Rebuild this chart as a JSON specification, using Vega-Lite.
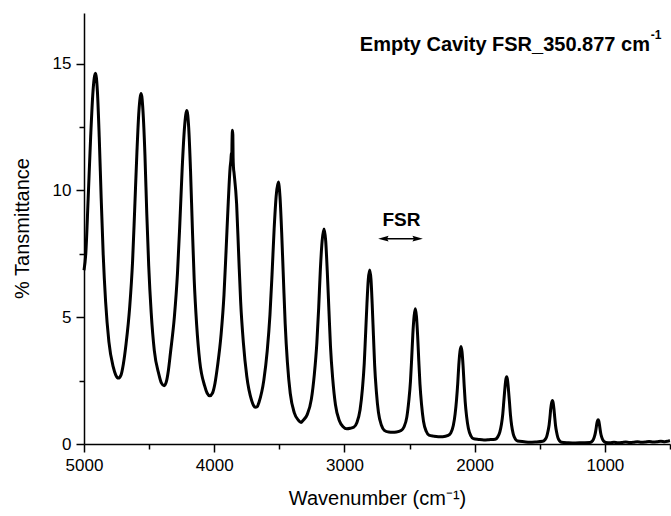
{
  "$schema": "https://vega.github.io/schema/vega-lite/v6.json",
  "width": 586,
  "height": 431,
  "autosize": {"type": "none"},
  "padding": {"left": 84, "top": 13, "right": 1, "bottom": 72},
  "background": "white",
  "config": {
    "view": {"stroke": null},
    "axis": {
      "labelFont": "Liberation Sans",
      "labelFontSize": 17,
      "labelColor": "black",
      "titleFont": "Liberation Sans",
      "titleFontSize": 20,
      "titleFontWeight": "normal",
      "titleColor": "black",
      "domainColor": "black",
      "domainWidth": 1.5,
      "tickColor": "black",
      "tickWidth": 1.5,
      "grid": false
    }
  },
  "datasets": {
    "spectrum": [
      {"w":5000,"t":6.85},{"w":4986,"t":7.53},{"w":4968,"t":9.69},{"w":4949,"t":12.10},{"w":4931,"t":13.90},{"w":4912,"t":14.62},
      {"w":4897,"t":13.90},{"w":4883,"t":12.10},{"w":4868,"t":9.69},{"w":4853,"t":7.53},{"w":4834,"t":5.61},{"w":4809,"t":4.04},
      {"w":4776,"t":3.05},{"w":4756,"t":2.72},{"w":4736,"t":2.6},{"w":4716,"t":2.72},{"w":4698,"t":3.15},
      {"w":4677,"t":3.95},{"w":4649,"t":5.41},{"w":4627,"t":7.20},{"w":4611,"t":9.22},{"w":4594,"t":11.46},{"w":4578,"t":13.15},{"w":4561,"t":13.82},
      {"w":4547,"t":13.13},{"w":4532,"t":11.40},{"w":4518,"t":9.10},{"w":4503,"t":7.02},{"w":4484,"t":5.18},{"w":4460,"t":3.68},
      {"w":4425,"t":2.75},{"w":4405,"t":2.4},{"w":4385,"t":2.3},{"w":4368,"t":2.45},{"w":4352,"t":2.9},
      {"w":4336,"t":3.60},{"w":4306,"t":5.01},{"w":4282,"t":6.75},{"w":4264,"t":8.70},{"w":4246,"t":10.87},{"w":4228,"t":12.50},{"w":4210,"t":13.15},
      {"w":4196,"t":12.48},{"w":4182,"t":10.79},{"w":4168,"t":8.54},{"w":4154,"t":6.51},{"w":4135,"t":4.71},{"w":4111,"t":3.25},
      {"w":4074,"t":2.3},{"w":4054,"t":2.0},{"w":4034,"t":1.9},{"w":4014,"t":2.0},{"w":3994,"t":2.4},
      {"w":3975,"t":3.06},{"w":3947,"t":4.33},{"w":3925,"t":5.88},{"w":3909,"t":7.62},{"w":3892,"t":9.56},{"w":3878,"t":10.9},
      {"w":3872,"t":11.2},{"w":3868,"t":11.5},{"w":3866,"t":11.1},{"w":3863,"t":12.0},{"w":3860,"t":12.38},{"w":3857,"t":12.2},{"w":3855,"t":11.3},{"w":3852,"t":10.9},{"w":3848,"t":10.7},
      {"w":3828,"t":9.47},{"w":3812,"t":7.44},{"w":3797,"t":5.61},{"w":3776,"t":3.99},{"w":3750,"t":2.67},
      {"w":3713,"t":1.72},{"w":3698,"t":1.52},{"w":3684,"t":1.45},{"w":3670,"t":1.47},{"w":3656,"t":1.65},
      {"w":3619,"t":2.52},{"w":3593,"t":3.67},{"w":3572,"t":5.09},{"w":3556,"t":6.69},{"w":3540,"t":8.47},{"w":3524,"t":9.80},{"w":3508,"t":10.33},
      {"w":3495,"t":9.76},{"w":3482,"t":8.34},{"w":3468,"t":6.44},{"w":3455,"t":4.74},{"w":3438,"t":3.22},{"w":3416,"t":1.99},{"w":3385,"t":1.23},{"w":3354,"t":0.94},
      {"w":3333,"t":0.85},
      {"w":3318,"t":0.93},{"w":3286,"t":1.16},{"w":3254,"t":1.77},{"w":3231,"t":2.76},{"w":3212,"t":3.98},{"w":3198,"t":5.35},{"w":3185,"t":6.88},{"w":3171,"t":8.02},{"w":3157,"t":8.48},
      {"w":3144,"t":8.01},{"w":3132,"t":6.83},{"w":3119,"t":5.25},{"w":3107,"t":3.83},{"w":3090,"t":2.57},{"w":3069,"t":1.55},{"w":3039,"t":0.92},{"w":3010,"t":0.68},
      {"w":2982,"t":0.60},{"w":2955,"t":0.62},
      {"w":2929,"t":0.66},{"w":2904,"t":0.85},{"w":2880,"t":1.35},{"w":2862,"t":2.17},{"w":2848,"t":3.17},{"w":2838,"t":4.29},{"w":2827,"t":5.55},{"w":2817,"t":6.48},{"w":2806,"t":6.86},
      {"w":2796,"t":6.48},{"w":2787,"t":5.52},{"w":2777,"t":4.24},{"w":2768,"t":3.10},{"w":2755,"t":2.08},{"w":2739,"t":1.25},{"w":2716,"t":0.74},{"w":2694,"t":0.54},
      {"w":2660,"t":0.47},{"w":2631,"t":0.46},{"w":2600,"t":0.47},
      {"w":2565,"t":0.53},{"w":2543,"t":0.67},{"w":2521,"t":1.06},{"w":2506,"t":1.69},{"w":2493,"t":2.47},{"w":2484,"t":3.34},{"w":2475,"t":4.31},{"w":2465,"t":5.04},{"w":2456,"t":5.33},
      {"w":2447,"t":5.03},{"w":2438,"t":4.27},{"w":2429,"t":3.27},{"w":2420,"t":2.36},{"w":2408,"t":1.56},{"w":2393,"t":0.90},{"w":2372,"t":0.50},{"w":2351,"t":0.35},
      {"w":2315,"t":0.31},{"w":2280,"t":0.29},{"w":2245,"t":0.29},
      {"w":2203,"t":0.34},{"w":2183,"t":0.44},{"w":2164,"t":0.73},{"w":2150,"t":1.19},{"w":2139,"t":1.76},{"w":2130,"t":2.39},{"w":2122,"t":3.10},{"w":2113,"t":3.64},{"w":2105,"t":3.85},
      {"w":2097,"t":3.63},{"w":2089,"t":3.08},{"w":2081,"t":2.34},{"w":2073,"t":1.68},{"w":2062,"t":1.09},{"w":2048,"t":0.61},{"w":2029,"t":0.32},{"w":2010,"t":0.21},
      {"w":1970,"t":0.18},{"w":1929,"t":0.16},{"w":1890,"t":0.17},
      {"w":1842,"t":0.19},{"w":1824,"t":0.27},{"w":1807,"t":0.47},{"w":1794,"t":0.79},{"w":1784,"t":1.19},{"w":1777,"t":1.63},{"w":1769,"t":2.13},{"w":1762,"t":2.50},{"w":1754,"t":2.65},
      {"w":1747,"t":2.50},{"w":1740,"t":2.11},{"w":1732,"t":1.60},{"w":1725,"t":1.14},{"w":1716,"t":0.73},{"w":1704,"t":0.40},{"w":1687,"t":0.19},{"w":1670,"t":0.12},
      {"w":1620,"t":0.09},{"w":1578,"t":0.07},{"w":1535,"t":0.08},
      {"w":1477,"t":0.11},{"w":1462,"t":0.16},{"w":1447,"t":0.29},{"w":1437,"t":0.50},{"w":1428,"t":0.76},{"w":1422,"t":1.05},{"w":1416,"t":1.38},{"w":1409,"t":1.62},{"w":1403,"t":1.72},
      {"w":1397,"t":1.62},{"w":1391,"t":1.37},{"w":1385,"t":1.04},{"w":1379,"t":0.73},{"w":1371,"t":0.47},{"w":1361,"t":0.25},{"w":1347,"t":0.12},{"w":1333,"t":0.07},
      {"w":1280,"t":0.05},{"w":1227,"t":0.04},{"w":1175,"t":0.05},
      {"w":1115,"t":0.06},{"w":1102,"t":0.09},{"w":1090,"t":0.16},{"w":1081,"t":0.28},{"w":1074,"t":0.42},{"w":1068,"t":0.59},{"w":1063,"t":0.77},{"w":1057,"t":0.91},{"w":1052,"t":0.96},
      {"w":1047,"t":0.91},{"w":1042,"t":0.77},{"w":1037,"t":0.59},{"w":1032,"t":0.42},{"w":1025,"t":0.28},{"w":1016,"t":0.16},{"w":1004,"t":0.09},{"w":992,"t":0.06},
      {"w":960,"t":0.05},{"w":930,"t":0.07},{"w":900,"t":0.05},{"w":870,"t":0.06},{"w":840,"t":0.08},{"w":810,"t":0.06},{"w":780,"t":0.07},{"w":750,"t":0.09},
      {"w":720,"t":0.07},{"w":690,"t":0.08},{"w":660,"t":0.10},{"w":630,"t":0.08},{"w":600,"t":0.09},{"w":570,"t":0.11},{"w":540,"t":0.09},{"w":510,"t":0.12},{"w":500,"t":0.13}
    ],
    "arrow": [{"w": 2700, "w2": 2439, "t": 8.1}],
    "heads": [{"w": 2701, "t": 8.1, "dir": "left"}, {"w": 2438, "t": 8.1, "dir": "right"}],
    "labels": [
      {"w": 2562, "t": 8.61, "label": "FSR", "kind": "fsr"},
      {"w": 654, "t": 15.52, "label": "Empty Cavity FSR_350.877 cm", "kind": "title"}
    ],
    "sup": [{"w": 647, "t": 15.96, "label": "-1"}]
  },
  "layer": [
    {
      "data": {"name": "spectrum"},
      "mark": {"type": "line", "color": "black", "strokeWidth": 3, "interpolate": "monotone", "strokeJoin": "round"},
      "encoding": {
        "x": {
          "field": "w", "type": "quantitative",
          "scale": {"domain": [500, 5000], "reverse": true, "nice": false, "zero": false},
          "axis": {
            "orient": "bottom",
            "values": [500, 1000, 1500, 2000, 2500, 3000, 3500, 4000, 4500, 5000],
            "format": "d",
            "labelExpr": "datum.value % 1000 === 0 ? datum.label : ''",
            "tickSize": {"condition": {"test": "datum.value % 1000 !== 0", "value": 5}, "value": 8},
            "labelPadding": 5,
            "labelFlush": false,
            "labelOverlap": false,
            "title": "Wavenumber (cm⁻¹)",
            "titleX": 293,
            "titleY": 60,
            "titleAlign": "center",
            "titleBaseline": "alphabetic"
          }
        },
        "y": {
          "field": "t", "type": "quantitative",
          "scale": {"domain": [0, 17], "nice": false, "zero": true},
          "axis": {
            "orient": "left",
            "values": [0, 2.5, 5, 7.5, 10, 12.5, 15],
            "labelExpr": "datum.value % 5 === 0 ? datum.label : ''",
            "tickSize": {"condition": {"test": "datum.value % 5 !== 0", "value": 5}, "value": 8},
            "labelPadding": 5,
            "labelFlush": false,
            "labelOverlap": false,
            "title": "% Tansmittance",
            "titleAngle": -90,
            "titleX": -56,
            "titleY": 215,
            "titleAlign": "center",
            "titleBaseline": "alphabetic"
          }
        }
      }
    },
    {
      "data": {"name": "arrow"},
      "mark": {"type": "rule", "color": "black", "strokeWidth": 1.5},
      "encoding": {
        "x": {"field": "w", "type": "quantitative", "scale": {"domain": [500, 5000], "reverse": true, "nice": false, "zero": false}, "axis": null},
        "x2": {"field": "w2"},
        "y": {"field": "t", "type": "quantitative", "scale": {"domain": [0, 17], "nice": false, "zero": true}, "axis": null}
      }
    },
    {
      "data": {"name": "heads"},
      "mark": {"type": "point", "filled": true, "color": "black", "opacity": 1, "size": 110, "strokeWidth": 0},
      "encoding": {
        "x": {"field": "w", "type": "quantitative", "scale": {"domain": [500, 5000], "reverse": true, "nice": false, "zero": false}, "axis": null},
        "y": {"field": "t", "type": "quantitative", "scale": {"domain": [0, 17], "nice": false, "zero": true}, "axis": null},
        "shape": {"field": "dir", "type": "nominal", "scale": {"domain": ["left", "right"], "range": ["M-1,0L1,-0.55L0.7,0L1,0.55Z", "M1,0L-1,-0.55L-0.7,0L-1,0.55Z"]}, "legend": null}
      }
    },
    {
      "data": {"name": "labels"},
      "transform": [{"filter": "datum.kind === 'fsr'"}],
      "mark": {"type": "text", "font": "Liberation Sans", "fontWeight": "bold", "fontSize": 19, "align": "center", "baseline": "alphabetic", "color": "black"},
      "encoding": {
        "x": {"field": "w", "type": "quantitative", "scale": {"domain": [500, 5000], "reverse": true, "nice": false, "zero": false}, "axis": null},
        "y": {"field": "t", "type": "quantitative", "scale": {"domain": [0, 17], "nice": false, "zero": true}, "axis": null},
        "text": {"field": "label"}
      }
    },
    {
      "data": {"name": "labels"},
      "transform": [{"filter": "datum.kind === 'title'"}],
      "mark": {"type": "text", "font": "Liberation Sans", "fontWeight": "bold", "fontSize": 20, "align": "right", "baseline": "alphabetic", "color": "black"},
      "encoding": {
        "x": {"field": "w", "type": "quantitative", "scale": {"domain": [500, 5000], "reverse": true, "nice": false, "zero": false}, "axis": null},
        "y": {"field": "t", "type": "quantitative", "scale": {"domain": [0, 17], "nice": false, "zero": true}, "axis": null},
        "text": {"field": "label"}
      }
    },
    {
      "data": {"name": "sup"},
      "mark": {"type": "text", "font": "Liberation Sans", "fontWeight": "bold", "fontSize": 12, "align": "left", "baseline": "alphabetic", "color": "black"},
      "encoding": {
        "x": {"field": "w", "type": "quantitative", "scale": {"domain": [500, 5000], "reverse": true, "nice": false, "zero": false}, "axis": null},
        "y": {"field": "t", "type": "quantitative", "scale": {"domain": [0, 17], "nice": false, "zero": true}, "axis": null},
        "text": {"field": "label"}
      }
    }
  ],
  "resolve": {"axis": {"x": "independent", "y": "independent"}}
}
